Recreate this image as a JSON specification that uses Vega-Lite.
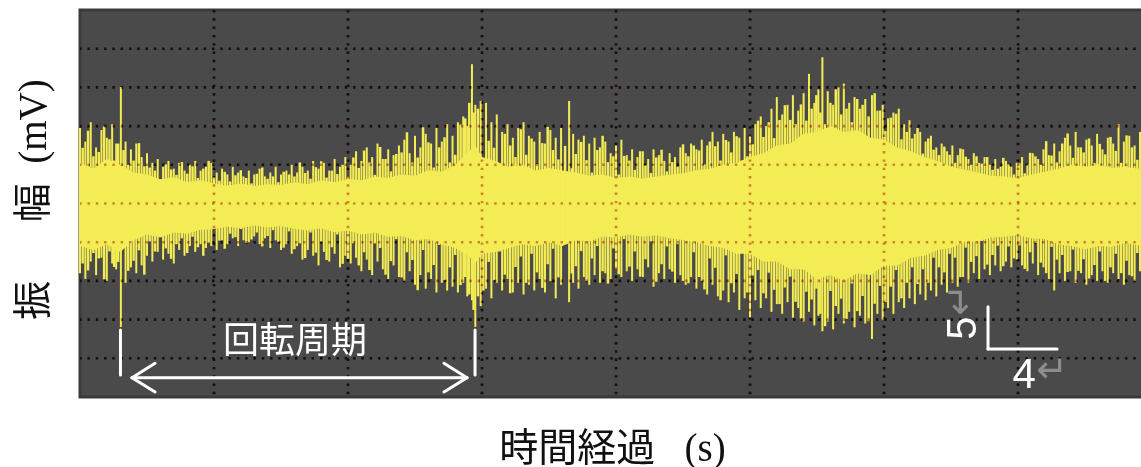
{
"$schema": "https://vega.github.io/schema/vega-lite/v6.json",
"width": 1064, "height": 387,
"autosize": {"type": "none"},
"padding": {"left": 80, "top": 10, "right": 0, "bottom": 70},
"background": "white",
"config": {
  "view": {"fill": "#4a4a4a", "stroke": "#3a3a3a", "strokeWidth": 3},
  "axis": {"labels": false, "ticks": false, "domain": false, "grid": false,
    "titleFont": "Liberation Serif, Noto Sans CJK JP", "titleFontSize": 39, "titleFontWeight": "normal", "titleColor": "#111"},
  "axisX": {"titlePadding": 32},
  "axisY": {"titlePadding": 27, "titleY": 189}
},
"datasets": {
  "gx": [{"t":1},{"t":2},{"t":3},{"t":4},{"t":5},{"t":6},{"t":7}],
  "gy": [{"v":-4},{"v":-3},{"v":-2},{"v":-1},{"v":0},{"v":1},{"v":2},{"v":3},{"v":4}],
  "core": [
{"t":0,"hi":1.05,"lo":-1.1},{"t":0.1,"hi":0.9,"lo":-1.2},{"t":0.2,"hi":1.15,"lo":-1.05},{"t":0.3,"hi":1.0,"lo":-1.25},
{"t":0.4,"hi":0.8,"lo":-0.95},{"t":0.5,"hi":0.75,"lo":-0.8},{"t":0.6,"hi":0.62,"lo":-0.88},{"t":0.7,"hi":0.68,"lo":-0.75},
{"t":0.8,"hi":0.55,"lo":-0.78},{"t":0.9,"hi":0.6,"lo":-0.68},{"t":1.0,"hi":0.52,"lo":-0.66},{"t":1.1,"hi":0.46,"lo":-0.6},
{"t":1.2,"hi":0.52,"lo":-0.64},{"t":1.3,"hi":0.45,"lo":-0.57},{"t":1.4,"hi":0.5,"lo":-0.62},{"t":1.5,"hi":0.48,"lo":-0.58},
{"t":1.6,"hi":0.55,"lo":-0.65},{"t":1.7,"hi":0.5,"lo":-0.7},{"t":1.8,"hi":0.6,"lo":-0.64},{"t":1.9,"hi":0.55,"lo":-0.74},
{"t":2.0,"hi":0.63,"lo":-0.7},{"t":2.1,"hi":0.6,"lo":-0.8},{"t":2.2,"hi":0.7,"lo":-0.75},{"t":2.3,"hi":0.66,"lo":-0.86},
{"t":2.4,"hi":0.75,"lo":-0.84},{"t":2.5,"hi":0.72,"lo":-0.95},{"t":2.6,"hi":0.86,"lo":-0.92},{"t":2.7,"hi":0.82,"lo":-1.05},
{"t":2.8,"hi":1.0,"lo":-1.15},{"t":2.9,"hi":1.35,"lo":-1.35},{"t":2.95,"hi":1.5,"lo":-1.55},{"t":3.0,"hi":1.2,"lo":-1.3},
{"t":3.1,"hi":1.1,"lo":-1.25},{"t":3.2,"hi":0.95,"lo":-1.15},{"t":3.3,"hi":1.0,"lo":-1.05},{"t":3.4,"hi":0.85,"lo":-1.1},
{"t":3.5,"hi":0.92,"lo":-1.0},{"t":3.6,"hi":0.85,"lo":-1.1},{"t":3.7,"hi":0.8,"lo":-0.95},{"t":3.8,"hi":0.72,"lo":-0.98},
{"t":3.9,"hi":0.75,"lo":-0.85},{"t":4.0,"hi":0.66,"lo":-0.88},{"t":4.1,"hi":0.7,"lo":-0.8},{"t":4.2,"hi":0.64,"lo":-0.86},
{"t":4.3,"hi":0.7,"lo":-0.82},{"t":4.4,"hi":0.74,"lo":-0.9},{"t":4.5,"hi":0.78,"lo":-0.94},{"t":4.6,"hi":0.86,"lo":-1.0},
{"t":4.7,"hi":0.9,"lo":-1.1},{"t":4.8,"hi":1.0,"lo":-1.15},{"t":4.9,"hi":1.05,"lo":-1.3},{"t":5.0,"hi":1.2,"lo":-1.3},
{"t":5.1,"hi":1.3,"lo":-1.5},{"t":5.2,"hi":1.5,"lo":-1.5},{"t":5.3,"hi":1.55,"lo":-1.7},{"t":5.4,"hi":1.8,"lo":-1.7},
{"t":5.5,"hi":1.85,"lo":-1.95},{"t":5.6,"hi":2.0,"lo":-1.85},{"t":5.7,"hi":1.85,"lo":-2.0},{"t":5.8,"hi":1.9,"lo":-1.8},
{"t":5.9,"hi":1.7,"lo":-1.85},{"t":6.0,"hi":1.65,"lo":-1.6},{"t":6.1,"hi":1.45,"lo":-1.6},{"t":6.2,"hi":1.35,"lo":-1.4},
{"t":6.3,"hi":1.2,"lo":-1.35},{"t":6.4,"hi":1.1,"lo":-1.2},{"t":6.5,"hi":0.95,"lo":-1.15},{"t":6.6,"hi":0.88,"lo":-1.0},
{"t":6.7,"hi":0.8,"lo":-0.98},{"t":6.8,"hi":0.72,"lo":-0.88},{"t":6.9,"hi":0.7,"lo":-0.86},{"t":7.0,"hi":0.66,"lo":-0.82},
{"t":7.1,"hi":0.75,"lo":-0.9},{"t":7.2,"hi":0.82,"lo":-0.92},{"t":7.3,"hi":0.9,"lo":-1.05},{"t":7.4,"hi":1.0,"lo":-1.1},
{"t":7.5,"hi":0.95,"lo":-1.18},{"t":7.6,"hi":1.02,"lo":-1.1},{"t":7.7,"hi":0.92,"lo":-1.12},{"t":7.8,"hi":0.95,"lo":-1.02},
{"t":7.9,"hi":0.9,"lo":-1.08},{"t":7.94,"hi":0.92,"lo":-1.05}
  ],
  "sig": [
{"t":0,"hi":1.95,"lo":-1.8},{"t":0.04,"hi":1.6,"lo":-1.95},{"t":0.08,"hi":2.1,"lo":-1.5},{"t":0.12,"hi":1.45,"lo":-1.85},
{"t":0.16,"hi":1.9,"lo":-1.4},{"t":0.2,"hi":1.7,"lo":-2.0},{"t":0.24,"hi":2.05,"lo":-1.55},{"t":0.27,"hi":1.55,"lo":-1.7},
{"t":0.305,"hi":3.01,"lo":-3.19},{"t":0.34,"hi":1.6,"lo":-2.05},{"t":0.38,"hi":1.4,"lo":-1.65},{"t":0.42,"hi":1.55,"lo":-1.8},
{"t":0.46,"hi":1.2,"lo":-1.6},{"t":0.5,"hi":1.3,"lo":-1.35},{"t":0.54,"hi":1.05,"lo":-1.5},{"t":0.58,"hi":1.15,"lo":-1.25},
{"t":0.62,"hi":0.95,"lo":-1.45},{"t":0.66,"hi":1.1,"lo":-1.3},{"t":0.7,"hi":0.9,"lo":-1.55},{"t":0.74,"hi":1.05,"lo":-1.2},
{"t":0.78,"hi":0.85,"lo":-1.35},{"t":0.82,"hi":1.0,"lo":-1.1},{"t":0.86,"hi":1.1,"lo":-1.25},{"t":0.9,"hi":0.85,"lo":-1.05},
{"t":0.94,"hi":0.95,"lo":-1.15},{"t":0.98,"hi":1.05,"lo":-1.1},{"t":1.02,"hi":0.8,"lo":-1.2},{"t":1.06,"hi":0.9,"lo":-0.95},
{"t":1.1,"hi":0.75,"lo":-1.05},{"t":1.14,"hi":0.95,"lo":-0.9},{"t":1.18,"hi":0.8,"lo":-1.1},{"t":1.22,"hi":0.7,"lo":-0.95},
{"t":1.26,"hi":0.85,"lo":-1.0},{"t":1.3,"hi":0.75,"lo":-0.85},{"t":1.34,"hi":0.9,"lo":-1.05},{"t":1.38,"hi":0.7,"lo":-0.9},
{"t":1.42,"hi":0.8,"lo":-1.15},{"t":1.46,"hi":0.95,"lo":-0.95},{"t":1.5,"hi":0.75,"lo":-1.2},{"t":1.54,"hi":0.85,"lo":-1.05},
{"t":1.58,"hi":1.0,"lo":-1.3},{"t":1.62,"hi":0.8,"lo":-1.1},{"t":1.66,"hi":0.95,"lo":-1.45},{"t":1.7,"hi":0.85,"lo":-1.2},
{"t":1.74,"hi":1.1,"lo":-1.35},{"t":1.78,"hi":0.9,"lo":-1.6},{"t":1.82,"hi":1.05,"lo":-1.25},{"t":1.86,"hi":0.85,"lo":-1.5},
{"t":1.9,"hi":1.15,"lo":-1.3},{"t":1.94,"hi":0.95,"lo":-1.65},{"t":1.98,"hi":1.2,"lo":-1.35},{"t":2.02,"hi":1.0,"lo":-1.55},
{"t":2.06,"hi":1.35,"lo":-1.4},{"t":2.1,"hi":1.1,"lo":-1.75},{"t":2.14,"hi":1.45,"lo":-1.45},{"t":2.18,"hi":1.2,"lo":-1.85},
{"t":2.22,"hi":1.55,"lo":-1.5},{"t":2.26,"hi":1.15,"lo":-1.7},{"t":2.3,"hi":1.4,"lo":-1.95},{"t":2.34,"hi":1.25,"lo":-1.6},
{"t":2.38,"hi":1.5,"lo":-1.9},{"t":2.42,"hi":1.65,"lo":-2.0},{"t":2.46,"hi":1.3,"lo":-1.75},{"t":2.5,"hi":1.75,"lo":-2.1},
{"t":2.54,"hi":1.45,"lo":-1.85},{"t":2.58,"hi":1.8,"lo":-2.2},{"t":2.62,"hi":1.55,"lo":-1.95},{"t":2.66,"hi":1.95,"lo":-2.3},
{"t":2.7,"hi":1.6,"lo":-2.05},{"t":2.74,"hi":2.05,"lo":-2.25},{"t":2.78,"hi":1.75,"lo":-2.15},{"t":2.82,"hi":2.1,"lo":-2.3},
{"t":2.86,"hi":2.25,"lo":-2.05},{"t":2.89,"hi":2.0,"lo":-2.4},{"t":2.925,"hi":3.6,"lo":-2.5},{"t":2.95,"hi":2.55,"lo":-3.19},
{"t":2.99,"hi":2.65,"lo":-2.65},{"t":3.03,"hi":2.6,"lo":-2.2},{"t":3.07,"hi":2.1,"lo":-2.45},{"t":3.11,"hi":2.3,"lo":-2.05},
{"t":3.15,"hi":1.85,"lo":-2.25},{"t":3.19,"hi":2.05,"lo":-1.95},{"t":3.23,"hi":1.7,"lo":-2.3},{"t":3.27,"hi":1.95,"lo":-2.05},
{"t":3.31,"hi":2.1,"lo":-2.35},{"t":3.35,"hi":1.75,"lo":-2.1},{"t":3.39,"hi":1.6,"lo":-2.25},{"t":3.43,"hi":1.85,"lo":-1.95},
{"t":3.47,"hi":1.55,"lo":-2.3},{"t":3.51,"hi":1.9,"lo":-2.0},{"t":3.55,"hi":1.7,"lo":-2.45},{"t":3.59,"hi":1.95,"lo":-2.1},
{"t":3.65,"hi":2.65,"lo":-2.55},{"t":3.68,"hi":1.8,"lo":-2.05},{"t":3.72,"hi":1.65,"lo":-2.2},{"t":3.76,"hi":1.75,"lo":-1.9},
{"t":3.8,"hi":1.55,"lo":-2.1},{"t":3.84,"hi":1.7,"lo":-1.85},{"t":3.88,"hi":1.45,"lo":-2.05},{"t":3.92,"hi":1.6,"lo":-1.8},
{"t":3.96,"hi":1.3,"lo":-1.95},{"t":4.0,"hi":1.5,"lo":-1.7},{"t":4.04,"hi":1.65,"lo":-1.9},{"t":4.08,"hi":1.25,"lo":-1.75},
{"t":4.12,"hi":1.4,"lo":-2.0},{"t":4.16,"hi":1.2,"lo":-1.7},{"t":4.2,"hi":1.35,"lo":-1.9},{"t":4.24,"hi":1.15,"lo":-1.65},
{"t":4.28,"hi":1.4,"lo":-2.15},{"t":4.32,"hi":1.25,"lo":-1.8},{"t":4.36,"hi":1.1,"lo":-1.95},{"t":4.4,"hi":1.3,"lo":-1.7},
{"t":4.44,"hi":1.2,"lo":-2.05},{"t":4.48,"hi":1.45,"lo":-1.85},{"t":4.52,"hi":1.3,"lo":-2.1},{"t":4.56,"hi":1.55,"lo":-1.9},
{"t":4.6,"hi":1.4,"lo":-2.2},{"t":4.64,"hi":1.65,"lo":-2.0},{"t":4.68,"hi":1.5,"lo":-2.35},{"t":4.72,"hi":1.85,"lo":-2.1},
{"t":4.76,"hi":1.6,"lo":-2.4},{"t":4.8,"hi":1.8,"lo":-2.25},{"t":4.84,"hi":1.6,"lo":-2.55},{"t":4.88,"hi":1.85,"lo":-2.3},
{"t":4.92,"hi":1.7,"lo":-2.75},{"t":4.96,"hi":1.95,"lo":-2.45},{"t":5.0,"hi":1.75,"lo":-2.95},{"t":5.04,"hi":2.05,"lo":-2.5},
{"t":5.08,"hi":2.25,"lo":-2.7},{"t":5.12,"hi":2.0,"lo":-2.45},{"t":5.16,"hi":2.45,"lo":-2.8},{"t":5.2,"hi":2.75,"lo":-2.6},
{"t":5.24,"hi":2.3,"lo":-2.85},{"t":5.28,"hi":2.55,"lo":-2.55},{"t":5.32,"hi":2.8,"lo":-2.95},{"t":5.36,"hi":2.4,"lo":-2.7},
{"t":5.4,"hi":2.85,"lo":-3.05},{"t":5.44,"hi":3.35,"lo":-2.8},{"t":5.48,"hi":2.6,"lo":-3.15},{"t":5.51,"hi":2.95,"lo":-2.9},
{"t":5.54,"hi":3.78,"lo":-3.3},{"t":5.58,"hi":2.9,"lo":-3.05},{"t":5.62,"hi":2.55,"lo":-3.25},{"t":5.66,"hi":3.0,"lo":-2.85},
{"t":5.7,"hi":3.1,"lo":-3.1},{"t":5.74,"hi":2.6,"lo":-2.8},{"t":5.78,"hi":2.75,"lo":-3.2},{"t":5.82,"hi":2.45,"lo":-2.9},
{"t":5.86,"hi":2.7,"lo":-3.1},{"t":5.91,"hi":2.8,"lo":-3.5},{"t":5.95,"hi":2.4,"lo":-2.85},{"t":5.99,"hi":2.55,"lo":-3.0},
{"t":6.03,"hi":2.2,"lo":-2.7},{"t":6.07,"hi":2.35,"lo":-2.85},{"t":6.11,"hi":2.45,"lo":-2.55},{"t":6.15,"hi":2.05,"lo":-2.7},
{"t":6.19,"hi":2.15,"lo":-2.45},{"t":6.23,"hi":1.8,"lo":-2.6},{"t":6.27,"hi":1.85,"lo":-2.35},{"t":6.31,"hi":1.6,"lo":-2.5},
{"t":6.35,"hi":1.75,"lo":-2.25},{"t":6.39,"hi":1.45,"lo":-2.4},{"t":6.43,"hi":1.55,"lo":-2.1},{"t":6.47,"hi":1.35,"lo":-2.3},
{"t":6.51,"hi":1.5,"lo":-2.05},{"t":6.55,"hi":1.25,"lo":-2.15},{"t":6.59,"hi":1.4,"lo":-1.9},{"t":6.63,"hi":1.15,"lo":-2.05},
{"t":6.67,"hi":1.3,"lo":-1.8},{"t":6.71,"hi":1.05,"lo":-1.95},{"t":6.75,"hi":1.2,"lo":-1.7},{"t":6.79,"hi":1.0,"lo":-1.85},
{"t":6.83,"hi":1.15,"lo":-1.6},{"t":6.87,"hi":0.95,"lo":-1.75},{"t":6.91,"hi":1.1,"lo":-1.5},{"t":6.95,"hi":0.95,"lo":-1.65},
{"t":6.99,"hi":1.05,"lo":-1.45},{"t":7.03,"hi":1.2,"lo":-1.6},{"t":7.07,"hi":1.0,"lo":-1.75},{"t":7.11,"hi":1.3,"lo":-1.55},
{"t":7.15,"hi":1.15,"lo":-1.85},{"t":7.19,"hi":1.4,"lo":-1.65},{"t":7.23,"hi":1.25,"lo":-1.95},{"t":7.27,"hi":1.55,"lo":-2.25},
{"t":7.31,"hi":1.35,"lo":-1.8},{"t":7.35,"hi":1.7,"lo":-2.0},{"t":7.39,"hi":1.5,"lo":-1.75},{"t":7.43,"hi":1.85,"lo":-2.05},
{"t":7.47,"hi":1.45,"lo":-1.8},{"t":7.51,"hi":1.65,"lo":-2.1},{"t":7.55,"hi":1.5,"lo":-1.85},{"t":7.59,"hi":1.8,"lo":-2.0},
{"t":7.63,"hi":1.4,"lo":-1.75},{"t":7.67,"hi":1.7,"lo":-2.05},{"t":7.71,"hi":1.55,"lo":-1.8},{"t":7.75,"hi":2.05,"lo":-1.95},
{"t":7.79,"hi":1.6,"lo":-2.1},{"t":7.83,"hi":1.75,"lo":-1.85},{"t":7.87,"hi":1.5,"lo":-2.0},{"t":7.91,"hi":1.85,"lo":-1.75}
  ],
  "sig2": [
{"t":0.02,"hi":1.44,"lo":-1.55},{"t":0.06,"hi":1.88,"lo":-1.73},{"t":0.1,"hi":1.22,"lo":-1.28},{"t":0.14,"hi":1.33,"lo":-1.42},
{"t":0.18,"hi":1.99,"lo":-1.96},{"t":0.22,"hi":1.66,"lo":-1.24},{"t":0.255,"hi":1.11,"lo":-1.64},{"t":0.285,"hi":1.55,"lo":-1.51},
{"t":0.325,"hi":1.38,"lo":-1.0},{"t":0.36,"hi":1.0,"lo":-1.74},{"t":0.4,"hi":1.11,"lo":-1.48},{"t":0.44,"hi":1.56,"lo":-1.21},
{"t":0.48,"hi":0.96,"lo":-1.84},
{"t":0.52,"hi":0.93,"lo":-0.98},{"t":0.56,"hi":0.85,"lo":-1.24},{"t":0.6,"hi":0.63,"lo":-0.83},{"t":0.64,"hi":1.01,"lo":-1.16},
{"t":0.68,"hi":0.88,"lo":-1.43},{"t":0.72,"hi":0.74,"lo":-1.05},{"t":0.76,"hi":1.07,"lo":-0.9},{"t":0.8,"hi":0.77,"lo":-1.28},
{"t":0.84,"hi":0.96,"lo":-0.86},{"t":0.88,"hi":0.66,"lo":-1.13},{"t":0.92,"hi":0.9,"lo":-1.35},{"t":0.96,"hi":1.1,"lo":-1.01},
{"t":1.0,"hi":0.68,"lo":-0.63},{"t":1.04,"hi":0.59,"lo":-0.96},{"t":1.08,"hi":0.82,"lo":-1.17},{"t":1.12,"hi":0.57,"lo":-0.78},
{"t":1.16,"hi":0.73,"lo":-0.87},{"t":1.2,"hi":0.86,"lo":-0.66},{"t":1.24,"hi":0.66,"lo":-1.02},{"t":1.28,"hi":0.52,"lo":-0.93},
{"t":1.32,"hi":0.77,"lo":-0.75},{"t":1.36,"hi":0.93,"lo":-1.11},{"t":1.4,"hi":0.64,"lo":-0.84},{"t":1.44,"hi":0.7,"lo":-0.69},
{"t":1.48,"hi":0.55,"lo":-0.99},{"t":1.52,"hi":0.82,"lo":-1.14},{"t":1.56,"hi":0.75,"lo":-0.72},
{"t":1.6,"hi":0.7,"lo":-1.18},{"t":1.64,"hi":1.06,"lo":-1.03},{"t":1.68,"hi":0.79,"lo":-1.41},{"t":1.72,"hi":0.64,"lo":-0.75},
{"t":1.76,"hi":0.94,"lo":-1.27},{"t":1.8,"hi":1.09,"lo":-0.99},{"t":1.84,"hi":0.67,"lo":-1.46},{"t":1.88,"hi":0.85,"lo":-1.13},
{"t":1.92,"hi":0.76,"lo":-0.8},{"t":1.96,"hi":1.0,"lo":-1.56},
{"t":2.0,"hi":0.7,"lo":-1.43},{"t":2.04,"hi":1.19,"lo":-1.03},{"t":2.08,"hi":0.92,"lo":-1.6},{"t":2.12,"hi":1.37,"lo":-1.26},
{"t":2.16,"hi":1.06,"lo":-1.72},{"t":2.2,"hi":0.74,"lo":-1.03},{"t":2.24,"hi":1.46,"lo":-1.15},{"t":2.28,"hi":1.15,"lo":-1.84},
{"t":2.32,"hi":0.83,"lo":-1.49},{"t":2.36,"hi":1.28,"lo":-0.92},
{"t":2.4,"hi":1.32,"lo":-1.91},{"t":2.44,"hi":1.84,"lo":-1.26},{"t":2.48,"hi":1.06,"lo":-1.46},{"t":2.52,"hi":1.19,"lo":-2.24},
{"t":2.56,"hi":1.97,"lo":-1.2},{"t":2.6,"hi":1.58,"lo":-1.78},{"t":2.64,"hi":0.93,"lo":-1.59},{"t":2.68,"hi":1.45,"lo":-1.07},
{"t":2.72,"hi":1.71,"lo":-1.98},{"t":2.76,"hi":1.06,"lo":-1.65},{"t":2.8,"hi":1.26,"lo":-1.33},{"t":2.84,"hi":2.04,"lo":-2.11},
{"t":2.875,"hi":2.2,"lo":-1.9},{"t":2.905,"hi":2.6,"lo":-2.35},{"t":2.937,"hi":2.35,"lo":-2.75},{"t":2.97,"hi":2.45,"lo":-2.4},
{"t":3.01,"hi":1.08,"lo":-2.25},{"t":3.05,"hi":1.62,"lo":-1.51},{"t":3.09,"hi":1.44,"lo":-1.98},{"t":3.13,"hi":0.96,"lo":-1.24},
{"t":3.17,"hi":1.8,"lo":-1.84},{"t":3.21,"hi":1.5,"lo":-2.32},{"t":3.25,"hi":1.2,"lo":-1.64},{"t":3.29,"hi":1.92,"lo":-1.37},
{"t":3.33,"hi":1.26,"lo":-2.05},{"t":3.37,"hi":1.68,"lo":-1.3},{"t":3.41,"hi":1.02,"lo":-1.78},{"t":3.45,"hi":1.56,"lo":-2.18},
{"t":3.49,"hi":1.98,"lo":-1.57},{"t":3.53,"hi":1.38,"lo":-1.17},{"t":3.57,"hi":1.14,"lo":-1.91},
{"t":3.62,"hi":1.49,"lo":-1.03},{"t":3.67,"hi":0.91,"lo":-1.81},{"t":3.7,"hi":1.28,"lo":-1.62},{"t":3.74,"hi":1.59,"lo":-1.23},
{"t":3.78,"hi":1.12,"lo":-2.01},{"t":3.82,"hi":0.8,"lo":-1.42},{"t":3.86,"hi":1.38,"lo":-1.1},{"t":3.9,"hi":1.75,"lo":-1.75},
{"t":3.94,"hi":1.07,"lo":-2.07},{"t":3.98,"hi":1.22,"lo":-1.16},
{"t":4.02,"hi":0.75,"lo":-1.83},{"t":4.06,"hi":1.23,"lo":-0.92},{"t":4.1,"hi":1.11,"lo":-1.63},{"t":4.14,"hi":0.87,"lo":-1.24},
{"t":4.18,"hi":1.35,"lo":-1.89},{"t":4.22,"hi":0.99,"lo":-1.44},{"t":4.26,"hi":0.79,"lo":-0.98},{"t":4.3,"hi":1.19,"lo":-2.02},
{"t":4.34,"hi":1.39,"lo":-1.57},{"t":4.38,"hi":0.83,"lo":-1.11},{"t":4.42,"hi":1.07,"lo":-1.76},{"t":4.46,"hi":0.95,"lo":-1.05},
{"t":4.5,"hi":1.53,"lo":-2.0},{"t":4.54,"hi":1.22,"lo":-2.06},{"t":4.58,"hi":1.5,"lo":-1.26},{"t":4.62,"hi":1.37,"lo":-1.9},
{"t":4.66,"hi":1.01,"lo":-2.22},{"t":4.7,"hi":1.6,"lo":-1.42},{"t":4.74,"hi":1.48,"lo":-1.66},{"t":4.78,"hi":1.11,"lo":-2.5},
{"t":4.82,"hi":1.64,"lo":-1.34},{"t":4.86,"hi":1.32,"lo":-2.06},{"t":4.9,"hi":1.74,"lo":-1.82},{"t":4.94,"hi":1.11,"lo":-1.18},
{"t":4.98,"hi":1.22,"lo":-2.3},
{"t":5.02,"hi":1.53,"lo":-1.86},{"t":5.06,"hi":2.14,"lo":-1.72},{"t":5.1,"hi":1.72,"lo":-2.32},{"t":5.14,"hi":2.1,"lo":-1.79},
{"t":5.18,"hi":1.69,"lo":-2.23},{"t":5.22,"hi":2.16,"lo":-2.6},{"t":5.26,"hi":2.54,"lo":-2.17},{"t":5.3,"hi":2.16,"lo":-1.89},
{"t":5.34,"hi":2.05,"lo":-2.54},{"t":5.38,"hi":2.56,"lo":-2.97},{"t":5.42,"hi":2.14,"lo":-2.28},{"t":5.46,"hi":2.45,"lo":-2.48},
{"t":5.495,"hi":2.8,"lo":-2.2},{"t":5.525,"hi":2.35,"lo":-2.85},{"t":5.56,"hi":2.05,"lo":-3.17},{"t":5.6,"hi":2.6,"lo":-2.26},
{"t":5.64,"hi":2.95,"lo":-2.65},{"t":5.68,"hi":2.3,"lo":-2.46},{"t":5.72,"hi":2.45,"lo":-2.98},{"t":5.76,"hi":2.1,"lo":-2.07},
{"t":5.8,"hi":2.7,"lo":-2.78},{"t":5.84,"hi":2.55,"lo":-2.39},{"t":5.885,"hi":2.25,"lo":-3.04},{"t":5.93,"hi":2.85,"lo":-2.59},
{"t":5.97,"hi":2.4,"lo":-2.13},
{"t":6.01,"hi":1.87,"lo":-2.55},{"t":6.05,"hi":2.22,"lo":-2.15},{"t":6.09,"hi":2.32,"lo":-1.72},{"t":6.13,"hi":1.66,"lo":-2.45},
{"t":6.17,"hi":1.85,"lo":-2.05},{"t":6.21,"hi":1.68,"lo":-1.65},{"t":6.25,"hi":1.95,"lo":-2.08},{"t":6.29,"hi":1.29,"lo":-1.7},
{"t":6.33,"hi":1.68,"lo":-2.05},{"t":6.37,"hi":1.39,"lo":-1.4},
{"t":6.41,"hi":1.25,"lo":-1.65},{"t":6.45,"hi":1.47,"lo":-1.78},{"t":6.49,"hi":1.26,"lo":-1.3},{"t":6.53,"hi":1.05,"lo":-1.4},
{"t":6.57,"hi":1.42,"lo":-1.9},{"t":6.61,"hi":1.21,"lo":-1.14},{"t":6.65,"hi":1.0,"lo":-1.51},{"t":6.69,"hi":1.22,"lo":-1.36},
{"t":6.73,"hi":1.03,"lo":-0.97},{"t":6.77,"hi":1.2,"lo":-1.58},{"t":6.81,"hi":0.87,"lo":-1.33},{"t":6.85,"hi":0.9,"lo":-1.09},
{"t":6.89,"hi":1.18,"lo":-1.62},{"t":6.93,"hi":1.01,"lo":-1.11},{"t":6.97,"hi":0.75,"lo":-1.42},
{"t":7.01,"hi":1.04,"lo":-1.08},{"t":7.05,"hi":0.78,"lo":-1.69},{"t":7.09,"hi":1.31,"lo":-1.26},{"t":7.13,"hi":1.22,"lo":-1.02},
{"t":7.17,"hi":1.0,"lo":-1.53},{"t":7.21,"hi":1.61,"lo":-1.8},{"t":7.25,"hi":1.24,"lo":-1.12},{"t":7.29,"hi":1.06,"lo":-1.45},
{"t":7.33,"hi":1.55,"lo":-1.33},{"t":7.37,"hi":1.81,"lo":-1.77},{"t":7.41,"hi":1.18,"lo":-1.19},{"t":7.45,"hi":1.45,"lo":-1.74},
{"t":7.49,"hi":1.32,"lo":-1.44},{"t":7.53,"hi":1.68,"lo":-1.94},{"t":7.57,"hi":1.05,"lo":-1.59},{"t":7.61,"hi":1.54,"lo":-1.24},
{"t":7.65,"hi":1.27,"lo":-2.0},{"t":7.69,"hi":1.72,"lo":-1.65},{"t":7.73,"hi":1.36,"lo":-1.3},{"t":7.77,"hi":1.05,"lo":-1.8},
{"t":7.81,"hi":1.76,"lo":-1.48},{"t":7.85,"hi":1.45,"lo":-1.88},{"t":7.89,"hi":1.13,"lo":-1.28},{"t":7.93,"hi":1.58,"lo":-1.38}
  ],
  "ann": [
{"t":0.302,"v":-3.27,"t2":0.302,"v2":-4.43},
{"t":2.948,"v":-3.27,"t2":2.948,"v2":-4.43},
{"t":0.388,"v":-4.5,"t2":2.888,"v2":-4.5},
{"t":0.388,"v":-4.5,"t2":0.56,"v2":-4.13},
{"t":0.388,"v":-4.5,"t2":0.56,"v2":-4.87},
{"t":2.888,"v":-4.5,"t2":2.716,"v2":-4.13},
{"t":2.888,"v":-4.5,"t2":2.716,"v2":-4.87},
{"t":6.776,"v":-2.67,"t2":6.776,"v2":-3.76},
{"t":6.776,"v":-3.76,"t2":7.291,"v2":-3.76}
  ]
},
"layer": [
  {"data": {"name": "gx"}, "mark": {"type": "rule", "color": "#1a1a1a", "strokeWidth": 2.6, "strokeDash": [2.4, 5.9]},
   "encoding": {"x": {"field": "t", "type": "quantitative", "scale": {"domain": [0, 7.94], "nice": false, "zero": false}, "axis": {"title": "時間経過\u2002\u2005(s)"}}}},
  {"data": {"name": "gy"}, "mark": {"type": "rule", "color": "#1a1a1a", "strokeWidth": 2.6, "strokeDash": [2.4, 5.9]},
   "encoding": {"y": {"field": "v", "type": "quantitative", "scale": {"domain": [-5, 5], "nice": false, "zero": false}, "axis": {"title": "振\u3000\u2002幅\u2002(mV)"}}}},
  {"data": {"name": "core"}, "mark": {"type": "area", "color": "#f5ee58", "opacity": 1},
   "encoding": {"x": {"field": "t", "type": "quantitative", "scale": {"domain": [0, 7.94], "nice": false, "zero": false}, "axis": {"title": "時間経過\u2002\u2005(s)"}},
     "y": {"field": "hi", "type": "quantitative", "scale": {"domain": [-5, 5], "nice": false, "zero": false}, "axis": {"title": "振\u3000\u2002幅\u2002(mV)"}},
     "y2": {"field": "lo"}}},
  {"data": {"name": "sig2"}, "mark": {"type": "rule", "color": "#f3ec55", "strokeWidth": 2.5},
   "encoding": {"x": {"field": "t", "type": "quantitative", "scale": {"domain": [0, 7.94], "nice": false, "zero": false}, "axis": {"title": "時間経過\u2002\u2005(s)"}},
     "y": {"field": "hi", "type": "quantitative", "scale": {"domain": [-5, 5], "nice": false, "zero": false}, "axis": {"title": "振\u3000\u2002幅\u2002(mV)"}},
     "y2": {"field": "lo"}}},
  {"data": {"name": "sig"}, "mark": {"type": "rule", "color": "#f3ec55", "strokeWidth": 2.0},
   "encoding": {"x": {"field": "t", "type": "quantitative", "scale": {"domain": [0, 7.94], "nice": false, "zero": false}, "axis": {"title": "時間経過\u2002\u2005(s)"}},
     "y": {"field": "hi", "type": "quantitative", "scale": {"domain": [-5, 5], "nice": false, "zero": false}, "axis": {"title": "振\u3000\u2002幅\u2002(mV)"}},
     "y2": {"field": "lo"}}},
  {"data": {"name": "gx"}, "mark": {"type": "rule", "color": "#d69070", "blend": "multiply", "strokeWidth": 2.6, "strokeDash": [2.4, 5.9]},
   "encoding": {"x": {"field": "t", "type": "quantitative", "scale": {"domain": [0, 7.94], "nice": false, "zero": false}, "axis": {"title": "時間経過\u2002\u2005(s)"}}}},
  {"data": {"name": "gy"}, "mark": {"type": "rule", "color": "#d69070", "blend": "multiply", "strokeWidth": 2.6, "strokeDash": [2.4, 5.9]},
   "encoding": {"y": {"field": "v", "type": "quantitative", "scale": {"domain": [-5, 5], "nice": false, "zero": false}, "axis": {"title": "振\u3000\u2002幅\u2002(mV)"}}}},
  {"data": {"name": "ann"}, "mark": {"type": "rule", "color": "#ffffff", "strokeWidth": 3, "strokeCap": "round"},
   "encoding": {"x": {"field": "t", "type": "quantitative", "scale": {"domain": [0, 7.94], "nice": false, "zero": false}, "axis": {"title": "時間経過\u2002\u2005(s)"}},
     "y": {"field": "v", "type": "quantitative", "scale": {"domain": [-5, 5], "nice": false, "zero": false}, "axis": {"title": "振\u3000\u2002幅\u2002(mV)"}},
     "x2": {"field": "t2"}, "y2": {"field": "v2"}}},
  {"data": {"values": [{"t": 1.604, "v": -3.58, "s": "回転周期"}]},
   "mark": {"type": "text", "color": "#ffffff", "font": "Noto Sans CJK JP", "fontSize": 36, "align": "center", "baseline": "middle"},
   "encoding": {"x": {"field": "t", "type": "quantitative", "scale": {"domain": [0, 7.94], "nice": false, "zero": false}, "axis": {"title": "時間経過\u2002\u2005(s)"}},
     "y": {"field": "v", "type": "quantitative", "scale": {"domain": [-5, 5], "nice": false, "zero": false}, "axis": {"title": "振\u3000\u2002幅\u2002(mV)"}},
     "text": {"field": "s"}}},
  {"data": {"values": [{"t": 7.045, "v": -4.43, "s": "4"}]},
   "mark": {"type": "text", "color": "#ffffff", "font": "Liberation Sans", "fontSize": 42, "align": "center", "baseline": "middle"},
   "encoding": {"x": {"field": "t", "type": "quantitative", "scale": {"domain": [0, 7.94], "nice": false, "zero": false}, "axis": {"title": "時間経過\u2002\u2005(s)"}},
     "y": {"field": "v", "type": "quantitative", "scale": {"domain": [-5, 5], "nice": false, "zero": false}, "axis": {"title": "振\u3000\u2002幅\u2002(mV)"}},
     "text": {"field": "s"}}},
  {"data": {"values": [{"t": 6.59, "v": -3.22, "s": "5"}]},
   "mark": {"type": "text", "color": "#ffffff", "font": "Liberation Sans", "fontSize": 42, "align": "center", "baseline": "middle", "angle": 270},
   "encoding": {"x": {"field": "t", "type": "quantitative", "scale": {"domain": [0, 7.94], "nice": false, "zero": false}, "axis": {"title": "時間経過\u2002\u2005(s)"}},
     "y": {"field": "v", "type": "quantitative", "scale": {"domain": [-5, 5], "nice": false, "zero": false}, "axis": {"title": "振\u3000\u2002幅\u2002(mV)"}},
     "text": {"field": "s"}}},
  {"data": {"values": [{"t": 7.254, "v": -4.33, "s": "↵"}]},
   "mark": {"type": "text", "color": "#8c8c8c", "font": "DejaVu Sans", "fontSize": 38, "align": "center", "baseline": "middle"},
   "encoding": {"x": {"field": "t", "type": "quantitative", "scale": {"domain": [0, 7.94], "nice": false, "zero": false}, "axis": {"title": "時間経過\u2002\u2005(s)"}},
     "y": {"field": "v", "type": "quantitative", "scale": {"domain": [-5, 5], "nice": false, "zero": false}, "axis": {"title": "振\u3000\u2002幅\u2002(mV)"}},
     "text": {"field": "s"}}},
  {"data": {"values": [{"t": 6.575, "v": -2.49, "s": "↵"}]},
   "mark": {"type": "text", "color": "#8c8c8c", "font": "DejaVu Sans", "fontSize": 38, "align": "center", "baseline": "middle", "angle": 270},
   "encoding": {"x": {"field": "t", "type": "quantitative", "scale": {"domain": [0, 7.94], "nice": false, "zero": false}, "axis": {"title": "時間経過\u2002\u2005(s)"}},
     "y": {"field": "v", "type": "quantitative", "scale": {"domain": [-5, 5], "nice": false, "zero": false}, "axis": {"title": "振\u3000\u2002幅\u2002(mV)"}},
     "text": {"field": "s"}}}
]
}
